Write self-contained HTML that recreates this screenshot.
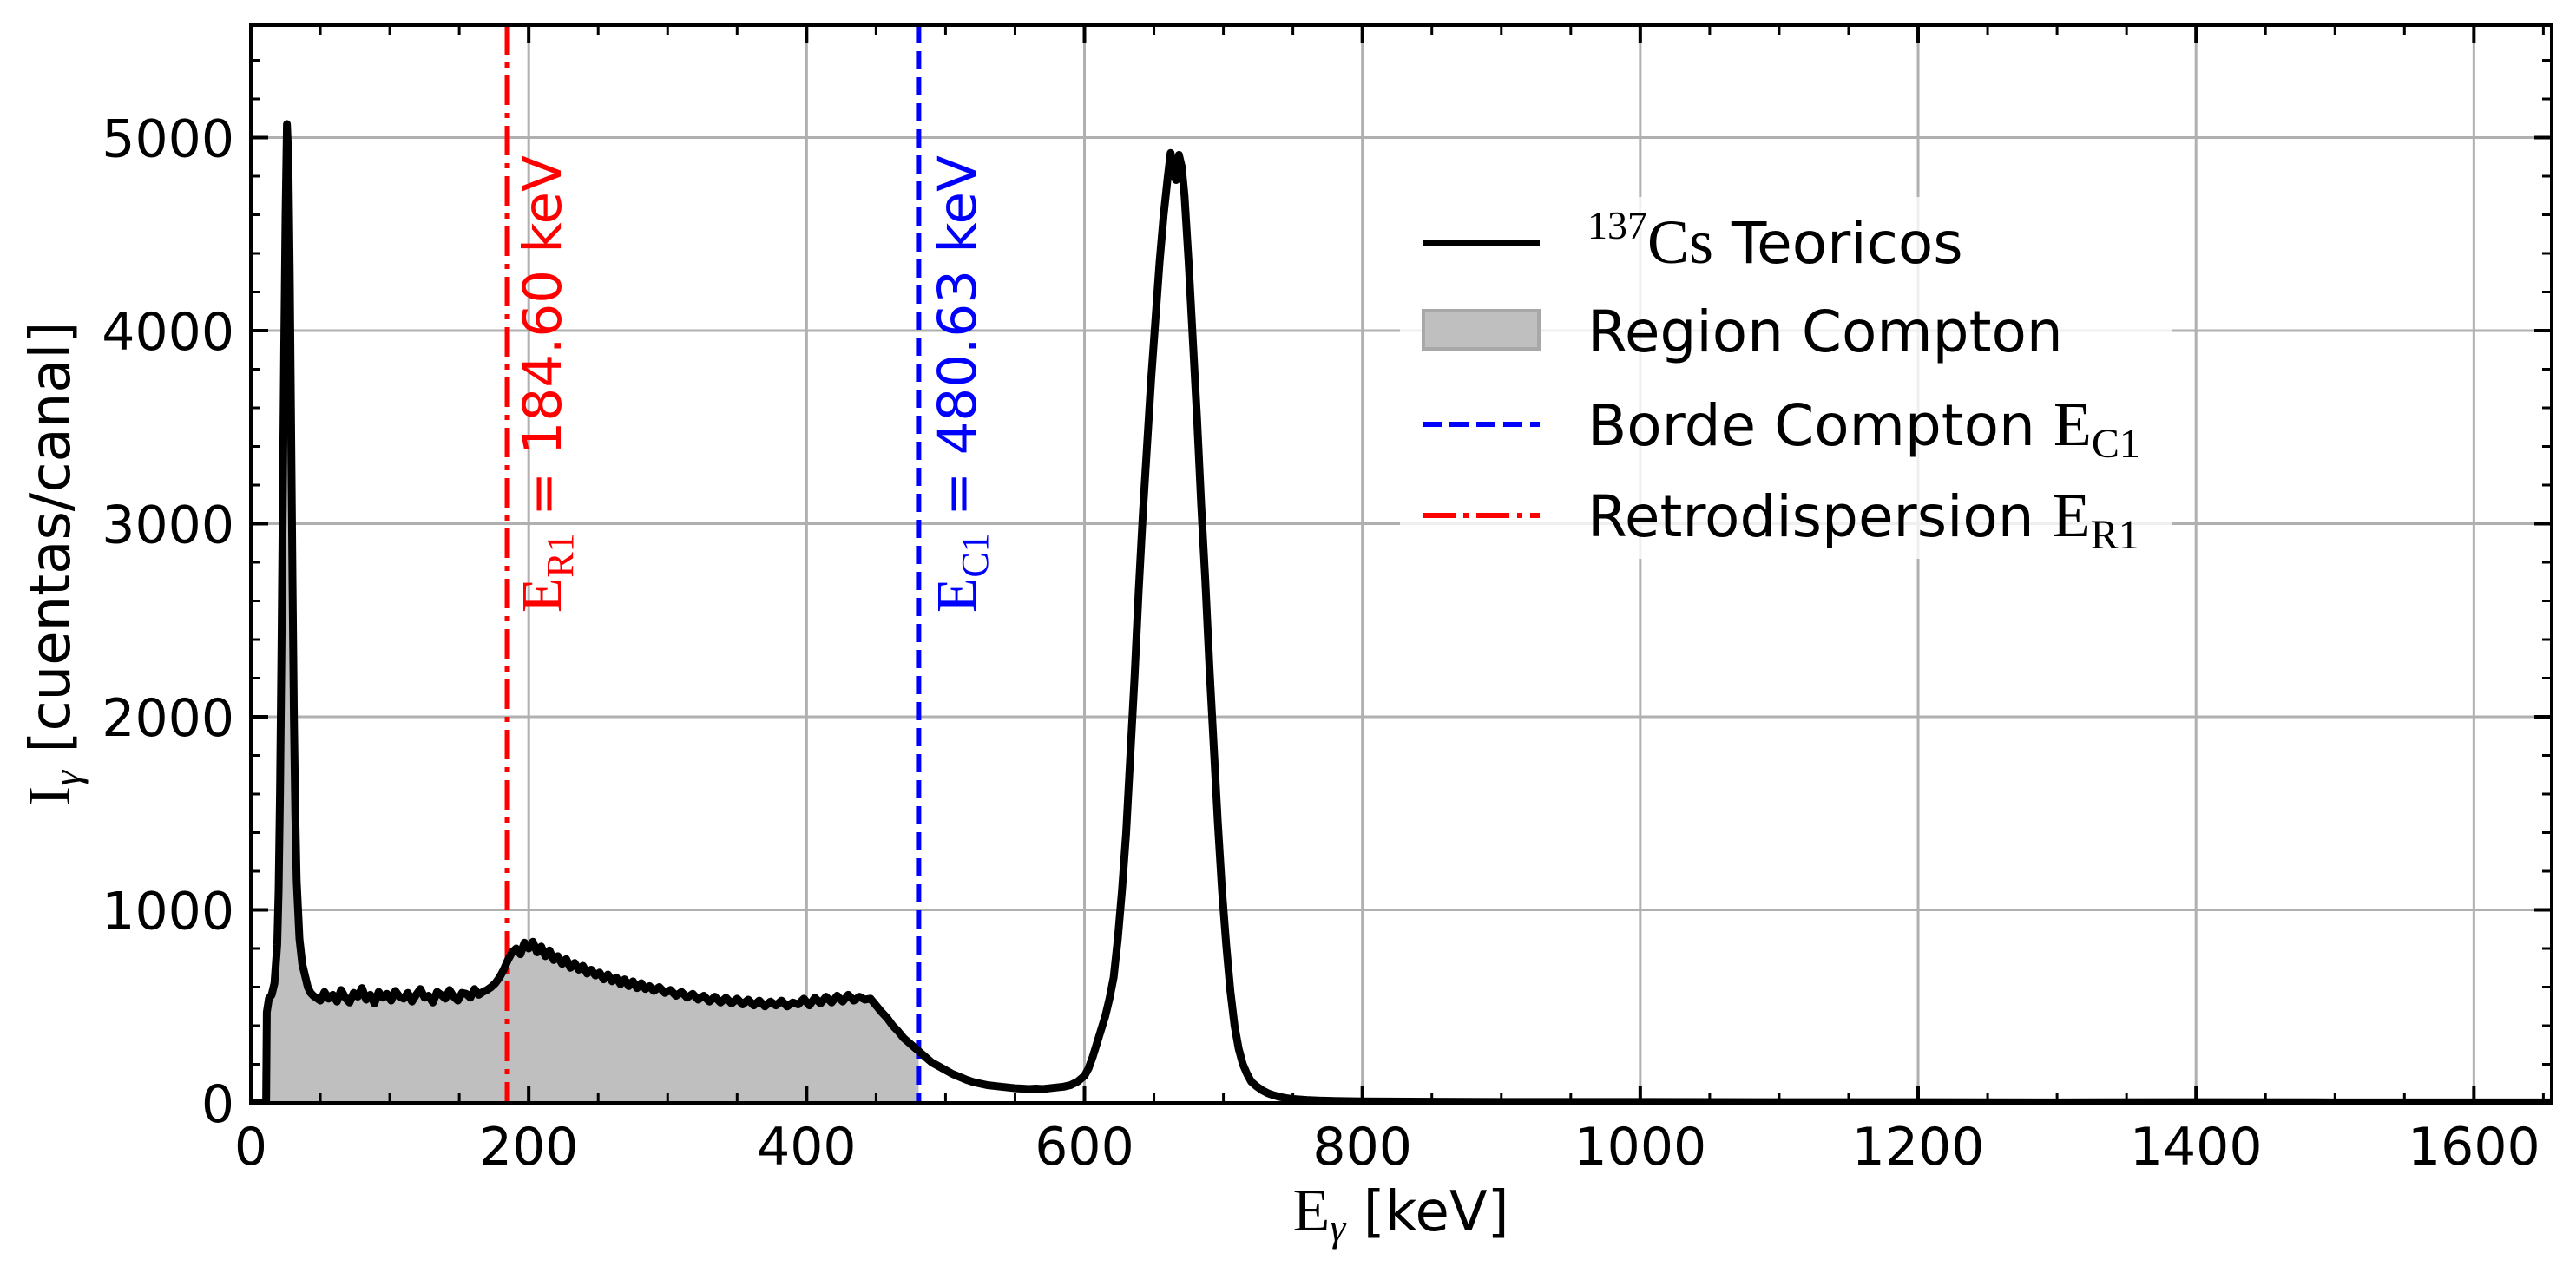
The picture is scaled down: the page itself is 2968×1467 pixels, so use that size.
<!DOCTYPE html>
<html><head><meta charset="utf-8"><style>
html,body{margin:0;padding:0;background:#fff;}
svg{display:block;}
.tk{font-family:"DejaVu Sans","Liberation Sans",sans-serif;font-size:60px;fill:#000;}
.lg{font-family:"DejaVu Sans","Liberation Sans",sans-serif;font-size:66px;fill:#000;}
.sf{font-family:"Liberation Serif","DejaVu Serif",serif;}
</style></head><body>
<svg id="chart" width="2968" height="1467" viewBox="0 0 2968 1467" xmlns="http://www.w3.org/2000/svg">
<rect width="2968" height="1467" fill="#fff"/>
<defs><clipPath id="clipA"><rect x="289" y="29" width="2651" height="1242"/></clipPath></defs>
<g id="grid"></g>
<g id="fill" clip-path="url(#clipA)"></g>
<g id="vlines" clip-path="url(#clipA)"></g>
<g id="series" clip-path="url(#clipA)"></g>
<g id="ticks"></g>
<rect x="289" y="29" width="2651" height="1242" fill="none" stroke="#000" stroke-width="4"/>
<text transform="translate(646,706) rotate(-90)" font-family="DejaVu Sans, Liberation Sans, sans-serif" font-size="61" fill="#ff0000"><tspan class="sf" font-size="66">E</tspan><tspan class="sf" font-size="44" dy="14">R1</tspan><tspan dy="-14"> = 184.60 keV</tspan></text>
<text transform="translate(1124,706) rotate(-90)" font-family="DejaVu Sans, Liberation Sans, sans-serif" font-size="61" fill="#0000ff"><tspan class="sf" font-size="66">E</tspan><tspan class="sf" font-size="44" dy="14">C1</tspan><tspan dy="-14"> = 480.63 keV</tspan></text>
<g id="legend">
<rect x="1613" y="227" width="890" height="417" fill="#fff" fill-opacity="0.8"/>
<g>
<line x1="1639" y1="280" x2="1774" y2="280" stroke="#000" stroke-width="7"/>
<text class="lg" x="1829" y="303"><tspan class="sf" font-size="46" dy="-28">137</tspan><tspan class="sf" font-size="72" dy="28">Cs</tspan> Teoricos</text></g>
<g>
<rect x="1640" y="358" width="133" height="44" fill="#bfbfbf" stroke="#a8a8a8" stroke-width="4"/>
<text class="lg" x="1829" y="405">Region Compton</text></g>
<g>
<line x1="1639" y1="489" x2="1774" y2="489" stroke="#0000ff" stroke-width="6" stroke-dasharray="22,9"/>
<text class="lg" x="1829" y="513">Borde Compton <tspan class="sf" font-size="72">E</tspan><tspan class="sf" font-size="48" dy="14">C1</tspan></text></g>
<g>
<line x1="1639" y1="594" x2="1774" y2="594" stroke="#ff0000" stroke-width="6" stroke-dasharray="38,9,6,9"/>
<text class="lg" x="1829" y="618">Retrodispersion <tspan class="sf" font-size="72">E</tspan><tspan class="sf" font-size="48" dy="14">R1</tspan></text></g>
</g>
<text x="1614" y="1418" text-anchor="middle" font-family="DejaVu Sans, Liberation Sans, sans-serif" font-size="64"><tspan class="sf" font-size="70">E</tspan><tspan class="sf" font-size="46" font-style="italic" dy="12">γ</tspan><tspan dy="-12"> [keV]</tspan></text>
<text transform="translate(80,650) rotate(-90)" text-anchor="middle" font-family="DejaVu Sans, Liberation Sans, sans-serif" font-size="64"><tspan class="sf" font-size="70">I</tspan><tspan class="sf" font-size="46" font-style="italic" dy="12">γ</tspan><tspan dy="-12"> [cuentas/canal]</tspan></text>
</svg>
<script>
const energies = [0,11,11.5,13,15,17,19,20,21,22,23,24,25,26,27,28,29,30,31,32,33,35,37,39,41,43,45,47,
50,53,56,59,62,65,68,71,74,77,80,83,86,89,92,95,98,101,104,107,110,113,116,119,122,125,128,131,134,137,140,143,146,149,152,155,158,161,164,167,170,
173,176,179,182,185,188,191,194,197,200,203,206,209,212,215,218,221,224,227,230,233,236,239,242,245,248,251,254,257,260,263,266,269,272,275,278,281,284,287,290,
294,298,302,306,310,314,318,322,326,330,334,338,342,346,350,354,358,362,366,370,374,378,382,386,390,394,398,402,406,410,414,418,422,426,430,434,438,442,446,450,454,458,462,466,470,474,478,482,486,490,
495,500,505,510,515,520,525,530,535,540,545,550,555,560,565,570,575,580,585,590,595,600,
603,606,609,612,615,618,621,624,627,630,633,636,639,642,645,648,651,654,657,660,
662,664,666,668,670,672,
675,678,681,684,687,690,693,696,699,702,705,708,711,714,717,720,
724,728,732,736,740,745,750,760,770,780,800,850,900,1000,1100,1200,1300,1400,1500,1600,1656];
const counts = [0,0,470,540,560,620,820,1100,1600,2300,3100,3900,4600,5070,4900,4300,3500,2700,2000,1500,1150,850,720,660,600,570,555,545,
530,575,540,560,525,585,545,520,570,550,595,535,560,515,575,545,565,530,580,550,540,570,525,560,590,545,555,520,575,560,540,585,550,530,570,565,545,590,560,575,585,
600,620,650,690,740,780,800,770,830,800,835,780,810,760,790,740,760,720,745,700,725,690,710,670,690,660,675,640,665,630,650,615,640,605,630,595,620,590,605,580,
600,570,585,555,575,545,565,535,555,525,550,520,545,515,540,510,535,505,530,500,525,505,530,500,520,510,540,505,545,515,550,520,555,525,560,530,550,535,540,505,470,440,400,370,335,310,285,260,235,210,
190,170,150,135,120,108,100,92,88,84,80,76,74,72,74,72,76,80,84,92,110,140,
180,240,310,380,450,540,650,850,1100,1400,1800,2200,2650,3050,3400,3750,4050,4350,4600,4800,
4920,4800,4780,4910,4850,4700,
4350,3950,3550,3100,2700,2250,1850,1450,1100,820,580,400,280,200,150,110,
85,65,50,40,32,25,20,15,12,10,8,6,5,5,4,4,3,4,3,3,3];
const xTicks = [0,200,400,600,800,1000,1200,1400,1600];
const yTicks = [0,1000,2000,3000,4000,5000];
const comptonEdge = 480.63;
const backscatter = 184.60;

const X0=289, X1=2940, Y0=1271, Y1=29, XMAX=1656, YMAX=5582;
const sx = v => X0 + v/XMAX*(X1-X0);
const sy = v => Y0 - v/YMAX*(Y0-Y1);
const NS='http://www.w3.org/2000/svg';
function mk(tag, attrs, parent){const e=document.createElementNS(NS,tag);for(const k in attrs)e.setAttribute(k,attrs[k]);parent.appendChild(e);return e;}
const grid=document.getElementById('grid'), ticks=document.getElementById('ticks');

xTicks.forEach(t=>{
  const x=sx(t);
  if(t>0){const g=mk('line',{x1:x,y1:Y1,x2:x,y2:Y0,stroke:'#b0b0b0','stroke-width':3},grid);
  
  }
  mk('line',{x1:x,y1:Y0,x2:x,y2:Y0-20,stroke:'#000','stroke-width':4},ticks);
  mk('line',{x1:x,y1:Y1,x2:x,y2:Y1+20,stroke:'#000','stroke-width':4},ticks);
  const l=mk('text',{x:x,y:1342,'text-anchor':'middle',class:'tk'},ticks);
  l.textContent=t;
  
  
});
for(let m=50;m<XMAX;m+=50){ if(m%200===0) continue; const x=sx(m);
  mk('line',{x1:x,y1:Y0,x2:x,y2:Y0-11,stroke:'#000','stroke-width':3},ticks);
  mk('line',{x1:x,y1:Y1,x2:x,y2:Y1+11,stroke:'#000','stroke-width':3},ticks);}
yTicks.forEach(t=>{
  const y=sy(t);
  if(t>0){const g=mk('line',{x1:X0,y1:y,x2:X1,y2:y,stroke:'#b0b0b0','stroke-width':3},grid);
  
  }
  mk('line',{x1:X0,y1:y,x2:X0+20,y2:y,stroke:'#000','stroke-width':4},ticks);
  mk('line',{x1:X1,y1:y,x2:X1-20,y2:y,stroke:'#000','stroke-width':4},ticks);
  const l=mk('text',{x:270,y:y+22,'text-anchor':'end',class:'tk'},ticks);
  l.textContent=t;
  
  
});
for(let m=200;m<YMAX;m+=200){ if(m%1000===0) continue; const y=sy(m);
  mk('line',{x1:X0,y1:y,x2:X0+11,y2:y,stroke:'#000','stroke-width':3},ticks);
  mk('line',{x1:X1,y1:y,x2:X1-11,y2:y,stroke:'#000','stroke-width':3},ticks);}

let fp=[];
for(let i=0;i<energies.length;i++){
  if(energies[i]<=comptonEdge){fp.push(sx(energies[i])+','+sy(counts[i]));}
  else{const e0=energies[i-1],e1=energies[i],c0=counts[i-1],c1=counts[i];
    const c=c0+(c1-c0)*(comptonEdge-e0)/(e1-e0);
    fp.push(sx(comptonEdge)+','+sy(c));break;}
}
fp.push(sx(comptonEdge)+','+sy(0)); fp.push(sx(energies[0])+','+sy(0));
const poly=mk('polygon',{points:fp.join(' '),fill:'#bfbfbf'},document.getElementById('fill'));



const vl=document.getElementById('vlines');
const rl=mk('line',{x1:sx(backscatter),y1:Y1,x2:sx(backscatter),y2:Y0,stroke:'#ff0000','stroke-width':6,'stroke-dasharray':'34,9,6,9'},vl);


const bl=mk('line',{x1:sx(comptonEdge),y1:Y1,x2:sx(comptonEdge),y2:Y0,stroke:'#0000ff','stroke-width':6,'stroke-dasharray':'21,9'},vl);



const pts=energies.map((e,i)=>sx(e)+','+sy(counts[i])).join(' ');
const pl=mk('polyline',{points:pts,fill:'none',stroke:'#000','stroke-width':9,'stroke-linejoin':'round'},document.getElementById('series'));


</script>
</body></html>
